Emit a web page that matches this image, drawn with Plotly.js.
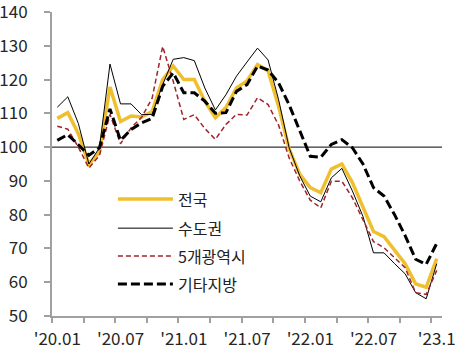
<!DOCTYPE html>
<html>
<head>
<meta charset="utf-8">
<script src="https://cdn.plot.ly/plotly-3.0.1.min.js"></script>
<style>
html,body{margin:0;padding:0;background:#fff;}
#chart{width:462px;height:355px;}
</style>
</head>
<body>
<div id="chart"></div>
<script>
// Monthly index, 2020.01 – 2023.01
var months = [
  '2020.01','2020.02','2020.03','2020.04','2020.05','2020.06','2020.07','2020.08','2020.09','2020.10','2020.11','2020.12',
  '2021.01','2021.02','2021.03','2021.04','2021.05','2021.06','2021.07','2021.08','2021.09','2021.10','2021.11','2021.12',
  '2022.01','2022.02','2022.03','2022.04','2022.05','2022.06','2022.07','2022.08','2022.09','2022.10','2022.11','2022.12',
  '2023.01'
];
var tickLabels = ["'20.01","'20.07","'21.01","'21.07","'22.01","'22.07","'23.1"];
var tickMonths = ['2020.01','2020.07','2021.01','2021.07','2022.01','2022.07','2023.01'];
var yTicks = [50,60,70,80,90,100,110,120,130,140];

var nationwide = [108.5,110.2,104,95,98.5,117.8,107.6,109.2,108.9,110.5,120,124,
                  120,120,113.6,108.7,111.7,117.5,119.6,124.4,122.6,112,99.5,92,
                  88,86.5,93.5,95,89.5,82,75,73.5,69.5,65.5,59.5,58.5,
                  67];
var capital = [111.8,114.9,107,95,99.8,124.6,112.8,112.8,109.6,109.7,118.5,126,
               126.5,125.6,117.5,111,115.5,121,125.2,129.3,125.8,114,99.8,91.5,
               85.5,83.8,90.9,93.7,87,79.5,68.7,68.7,65.5,62.5,56.9,55.1,
               65.5];
var metro5 = [106.2,105.3,100,93.8,97.5,109.7,101,105.7,108.8,114.5,129.8,119.5,
              108.2,109.6,105.5,102.3,106.7,109.7,109.5,114.6,112.6,106.5,96.8,90,
              84.3,82,89.9,89.9,85,78.5,72,70.2,67.2,64.3,56.9,56.4,
              63.5];
var otherRegions = [102,103.7,100.7,97.6,99.8,111.3,102,105.2,107.2,108.5,118,122,
                    116.1,116.1,113.6,110,110.2,116.5,118.5,124,122.8,119,112.5,105,
                    97.3,97,100.8,102.2,99.8,95,88,85.5,80,73.8,66.8,65.3,
                    71.5];
var seriesNames = ['전국','수도권','5개광역시','기타지방'];

var xIdx = months.map(function(m, i){ return i; });
var tickVals = tickMonths.map(function(m){ return months.indexOf(m); });

var styles = [
  {color:'#F0BF2E', width:3.5, dash:'solid'},
  {color:'#000000', width:1, dash:'solid'},
  {color:'#A0242C', width:1.5, dash:'5px,3px'},
  {color:'#000000', width:3, dash:'9px,4px'}
];
var allSeries = [nationwide, capital, metro5, otherRegions];

var traces = allSeries.map(function(vals, k){
  return {
    x: xIdx, y: vals, type:'scatter', mode:'lines', name: seriesNames[k],
    line: {color: styles[k].color, width: styles[k].width, dash: styles[k].dash},
    hoverinfo:'skip', showlegend:false, cliponaxis:false
  };
});

// manual legend (inside plot area)
var legY = [0.385, 0.289, 0.197, 0.105];
var shapes = [{
  type:'line', xref:'paper', yref:'y', x0:0, x1:1, y0:100, y1:100,
  line:{color:'#000', width:1}, layer:'below'
}];
var annotations = [];
seriesNames.forEach(function(nm, k){
  shapes.push({type:'line', xref:'paper', yref:'paper', x0:0.169, x1:0.310, y0:legY[k], y1:legY[k],
    line:{color:styles[k].color, width:styles[k].width, dash:styles[k].dash}});
  annotations.push({xref:'paper', yref:'paper', x:0.318, y:legY[k], xanchor:'left', yanchor:'middle',
    text:nm, showarrow:false, font:{family:'"Noto Sans CJK KR", sans-serif', size:16, color:'#222'}});
});

var axisGray = '#a0a0a0';
var tickFont = {family:'"Noto Sans CJK KR", sans-serif', size:17, color:'#262626'};
var layout = {
  width:462, height:355,
  margin:{l:52, r:20, t:12, b:39, pad:0},
  paper_bgcolor:'#fff', plot_bgcolor:'#fff',
  showlegend:false,
  font:{family:'"Noto Sans CJK KR", "Noto Sans", sans-serif', size:16, color:'#222'},
  xaxis:{
    range:[-0.5, 36.5], tickmode:'array', tickvals:tickVals, ticktext:tickLabels,
    ticks:'', showgrid:false, zeroline:false,
    showline:true, linecolor:axisGray, linewidth:2,
    ticklabelstandoff:7, ticklabeloverflow:'allow',
    tickfont:tickFont,
    minor:{tickmode:'linear', tick0:-0.5, dtick:3, ticks:'outside', ticklen:5, tickwidth:2, tickcolor:axisGray, showgrid:false}
  },
  yaxis:{
    range:[50,140], tickmode:'array', tickvals:yTicks,
    ticks:'outside', ticklen:6, tickwidth:2, tickcolor:axisGray,
    showgrid:false, zeroline:false,
    showline:true, linecolor:axisGray, linewidth:2,
    ticklabelstandoff:13, ticklabeloverflow:'allow',
    tickfont:tickFont
  },
  shapes:shapes,
  annotations:annotations
};

Plotly.newPlot('chart', traces, layout, {displayModeBar:false, staticPlot:true});
</script>
</body>
</html>
